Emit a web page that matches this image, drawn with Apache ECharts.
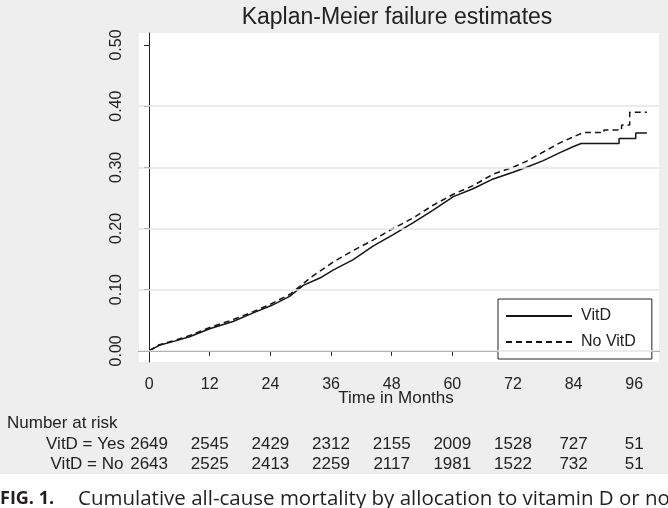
<!DOCTYPE html>
<html><head><meta charset="utf-8">
<script src="https://cdn.jsdelivr.net/npm/echarts@6/dist/echarts.min.js"></script>
<style>html,body{margin:0;padding:0;background:#fff}#c{width:668px;height:508px}</style>
</head><body><div id="c"></div>
<script>
// ---- data ----
const xTicks = [0, 12, 24, 36, 48, 60, 72, 84, 96];
const yTicks = [0, 0.1, 0.2, 0.3, 0.4, 0.5];
const gridValues = [0, 0.1, 0.2, 0.3, 0.4];

const vitdTime = [0, 2, 4.7, 8, 12, 16.6, 20.6, 24.2, 27.8, 30.5, 33.8, 36.4, 40.4, 44.3, 48.3, 52.2, 56.2, 60.2, 64.1, 68.1, 72, 74.7, 78, 81.3, 84, 85.5, 93, 93, 96.3, 96.3, 98.5];
const vitdFail = [0, 0.009, 0.015, 0.023, 0.036, 0.048, 0.062, 0.074, 0.089, 0.107, 0.119, 0.132, 0.149, 0.171, 0.190, 0.209, 0.230, 0.252, 0.265, 0.281, 0.292, 0.300, 0.311, 0.324, 0.334, 0.339, 0.339, 0.347, 0.347, 0.356, 0.356];

const noVitdTime = [0, 2, 4.7, 8, 12, 16.6, 20.6, 24.2, 28, 32, 36.4, 40.4, 44.3, 48.3, 52.2, 56.2, 60.2, 64.1, 68.1, 72, 74.7, 78, 81.3, 84, 86, 90, 90, 93.5, 93.5, 95.1, 95.1, 98.5];
const noVitdFail = [0, 0.010, 0.016, 0.025, 0.038, 0.051, 0.064, 0.077, 0.093, 0.120, 0.145, 0.164, 0.181, 0.200, 0.217, 0.238, 0.256, 0.270, 0.289, 0.300, 0.310, 0.325, 0.340, 0.350, 0.357, 0.357, 0.361, 0.361, 0.369, 0.369, 0.390, 0.390];

const riskYes = [2649, 2545, 2429, 2312, 2155, 2009, 1528, 727, 51];
const riskNo = [2643, 2525, 2413, 2259, 2117, 1981, 1522, 732, 51];

const seriesNames = ['VitD', 'No VitD'];
const titleText = 'Kaplan-Meier failure estimates';
const xTitle = 'Time in Months';
const riskTitle = 'Number at risk';
const rowLabels = ['VitD = Yes', 'VitD = No'];
const captionBold = 'FIG. 1.';
const captionText = 'Cumulative all-cause mortality by allocation to vitamin D or no';

// ---- chart ----
const FONT = '"Liberation Sans", Arial, sans-serif';
const CAPFONT = '"Open Sans", "Noto Sans", sans-serif';
const chart = echarts.init(document.getElementById('c'), null, {renderer: 'canvas'});
const zip = (a, b) => a.map((t, i) => [t, b[i]]);

chart.setOption({
  backgroundColor: '#eeeeee',
  animation: false,
  grid: {left: 139, right: 9, top: 33, bottom: 146, show: true, backgroundColor: '#ffffff', borderWidth: 0},
  xAxis: {
    type: 'value', min: -2.0, max: 100.9,
    axisLine: {show: true, lineStyle: {color: '#222', width: 1}},
    axisTick: {show: true, length: 5, customValues: xTicks, lineStyle: {color: '#222'}},
    axisLabel: {customValues: xTicks, margin: 15, color: '#222', fontSize: 16, fontFamily: FONT},
    splitLine: {show: false}
  },
  yAxis: {
    type: 'value', min: -0.0183, max: 0.5196,
    axisLine: {show: true, lineStyle: {color: '#222', width: 1}},
    axisTick: {show: true, length: 5, customValues: yTicks, lineStyle: {color: '#222'}},
    axisLabel: {customValues: yTicks, rotate: 90, margin: 14, color: '#222', fontSize: 16, fontFamily: FONT,
      formatter: v => v.toFixed(2)},
    splitLine: {show: false}
  },
  legend: {
    orient: 'vertical', left: 498, top: 299,
    padding: [9, 16, 9, 7], itemGap: 10, itemWidth: 66, itemHeight: 14,
    backgroundColor: '#ffffff', borderColor: '#222', borderWidth: 1, borderRadius: 0,
    itemStyle: {opacity: 0},
    textStyle: {fontSize: 16, fontFamily: FONT, color: '#222', padding: [0, 0, 0, 4]},
    data: seriesNames
  },
  series: [
    {type: 'line', name: '__grid', silent: true, data: [], z: 1,
      markLine: {silent: true, symbol: 'none', label: {show: false},
        lineStyle: {color: '#e4e4e4', width: 1.5, type: 'solid'},
        data: gridValues.map(v => ({yAxis: v}))}},
    {type: 'line', name: seriesNames[0], data: zip(vitdTime, vitdFail), symbol: 'none', z: 3,
      lineStyle: {color: '#151515', width: 1.5, type: 'solid'}, itemStyle: {color: '#151515'}},
    {type: 'line', name: seriesNames[1], data: zip(noVitdTime, noVitdFail), symbol: 'none', z: 3,
      lineStyle: {color: '#151515', width: 1.5, type: [6, 4]}, itemStyle: {color: '#151515'}}
  ]
});

// text elements positioned via the library's scale
const px = t => chart.convertToPixel({xAxisIndex: 0}, t);
const plotCenter = (px(-2.0) + px(100.9)) / 2;
const txt = (text, x, y, align, size, weight, family, color) => ({
  type: 'text', silent: true, z: 10,
  style: {text, x, y, align: align, verticalAlign: 'middle',
    font: (weight || 'normal') + ' ' + size + 'px ' + (family || FONT), fill: color || '#222'}
});
const els = [
  {type: 'rect', shape: {x: 0, y: 474, width: 668, height: 34}, style: {fill: '#ffffff'}, z: 5, silent: true},
  txt(titleText, plotCenter - 2, 18, 'center', 23, 'normal'),
  txt(xTitle, plotCenter - 3, 398, 'center', 17, 'normal'),
  txt(riskTitle, 7, 423, 'left', 17, 'normal'),
  txt(rowLabels[0], 125, 444, 'right', 17, 'normal'),
  txt(rowLabels[1], 123.5, 464, 'right', 17, 'normal'),
  txt(captionBold, 0, 499, 'left', 18, 'bold', CAPFONT, '#231f20'),
  txt(captionText, 78, 499, 'left', 20.5, 'normal', CAPFONT, '#231f20')
];
xTicks.forEach((t, i) => {
  els.push(txt(String(riskYes[i]), px(t), 444, 'center', 17, 'normal'));
  els.push(txt(String(riskNo[i]), px(t), 464, 'center', 17, 'normal'));
});
chart.setOption({graphic: {elements: els}});
</script>
</body></html>
